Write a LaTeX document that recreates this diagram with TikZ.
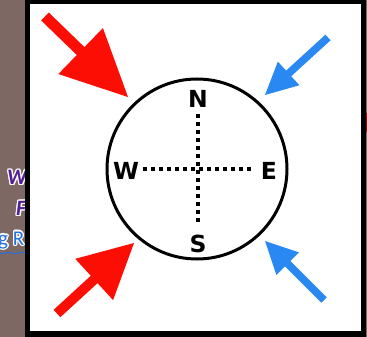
\documentclass[tikz,border=0pt]{standalone}
\usepackage{fontspec}
\usepackage{contour}
\usetikzlibrary{calc}
\newfontfamily\compassfont{DejaVu Sans}
\newfontfamily\bgfont{Carlito}
\definecolor{bgbrown}{RGB}{126,104,99}
\definecolor{arrred}{RGB}{252,14,4}
\definecolor{arrblue}{RGB}{42,136,242}
\definecolor{fragpurple}{RGB}{88,30,150}
\definecolor{fragblue}{RGB}{36,112,224}
\contourlength{1.3pt}
\contournumber{12}
\newcommand\fatarrow[6]{%
  \path ($(#3)!#4!(#2)$) coordinate (base);
  \fill[#1] ($(#2)!#6!90:(#3)$) -- ($(base)!#6!90:(#3)$) -- ($(base)!#5!90:(#3)$)
    -- (#3) -- ($(base)!#5!-90:(#3)$) -- ($(base)!#6!-90:(#3)$) -- ($(#2)!#6!-90:(#3)$) -- cycle;}
\tikzset{
  letter/.style={font=\compassfont\bfseries\fontsize{23.5}{23.5}\selectfont, inner sep=0pt},
  dotline/.style={line width=3.5pt, dash pattern=on 3.5pt off 4.5pt},
  ring/.style={draw=black, line width=3pt},
  frag/.style={inner sep=0pt, anchor=west}
}
\begin{document}
\begin{tikzpicture}[x=1pt,y=-1pt]
\useasboundingbox (0,0) rectangle (367,337);
% background
\fill[bgbrown] (0,0) rectangle (367,337);
% background text fragments
\node[frag] (fw) at (7,178) {\bgfont\bfseries\itshape\fontsize{22}{22}\selectfont\contour{white}{\textcolor{fragpurple}{W}}};
\node[frag] (ff) at (16,209) {\bgfont\bfseries\itshape\fontsize{22}{22}\selectfont\contour{white}{\textcolor{fragpurple}{F}}};
\node[frag] (fg) at (-2,241) {\bgfont\fontsize{21}{21}\selectfont\contour{white}{\textcolor{fragblue}{g R}}};
\draw[fragblue, line width=1pt] (0,253) .. controls (4,256) and (8,250) .. (12,253) .. controls (16,256) and (20,250) .. (25,253);
\fill[red!60!black] (364,113) rectangle (367,132);
% frame
\fill[black] (25,0) rectangle (366,337);
\fill[white] (30,4) rectangle (361,331);
% compass
\coordinate (c) at (197,169);
\draw[ring] (c) circle[radius=90];
\node[letter] (N) at (198,99) {N};
\node[letter] (S) at (198,244) {S};
\node[letter] (W) at (126,171) {W};
\node[letter] (E) at (269,171) {E};
\coordinate (vt) at (198,114);
\coordinate (vb) at (198,224);
\coordinate (hl) at (143,169);
\coordinate (hr) at (253,169);
\draw[dotline] (vt) -- (vb);
\draw[dotline] (hl) -- (hr);
% arrows
\coordinate (tlT) at (45,16.5);  \coordinate (tlP) at (128,97);
\coordinate (blT) at (57,313.5); \coordinate (blP) at (134,243);
\coordinate (trT) at (328,37.5); \coordinate (trP) at (265,95);
\coordinate (brT) at (324,300);  \coordinate (brP) at (265,241);
\fatarrow{arrred}{tlT}{tlP}{66pt}{32pt}{5.5pt}
\fatarrow{arrred}{blT}{blP}{54pt}{28pt}{5pt}
\fatarrow{arrblue}{trT}{trP}{32pt}{16pt}{3.8pt}
\fatarrow{arrblue}{brT}{brP}{32pt}{16pt}{3.8pt}
\end{tikzpicture}
\end{document}
